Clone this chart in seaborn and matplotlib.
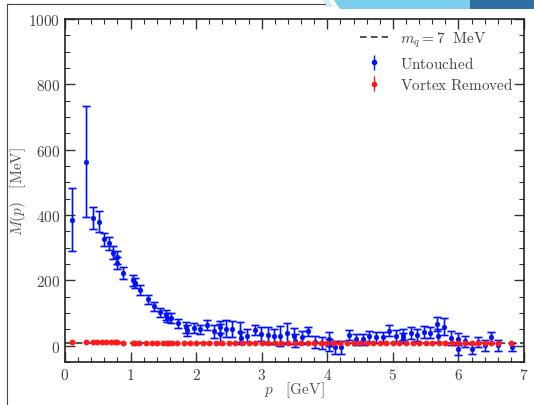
import numpy as np
import pandas as pd
import matplotlib
matplotlib.use("Agg")
import matplotlib.pyplot as plt
import seaborn as sns
from matplotlib.lines import Line2D
from matplotlib.patches import Polygon
from matplotlib.ticker import MultipleLocator

# ---------------- data ----------------
p_untouched = [0.11, 0.32, 0.43, 0.52, 0.60, 0.67, 0.73, 0.79, 0.80, 0.89,
               1.03, 1.07, 1.15, 1.26, 1.36, 1.45, 1.54, 1.56, 1.62, 1.72,
               1.85, 1.86, 1.96, 2.06, 2.17, 2.27, 2.36, 2.37, 2.45, 2.55,
               2.67, 2.69, 2.78, 2.89, 2.99, 3.09, 3.19, 3.28, 3.39, 3.49,
               3.51, 3.61, 3.71, 3.82, 3.92, 4.02, 4.03, 4.12, 4.21, 4.33,
               4.44, 4.54, 4.64, 4.75, 4.85, 4.94, 5.05, 5.15, 5.16, 5.27,
               5.37, 5.47, 5.57, 5.68, 5.69, 5.78, 5.88, 5.99, 6.00, 6.10,
               6.20, 6.30, 6.40, 6.50, 6.61, 6.82]
m_untouched = [386, 563, 391, 380, 325, 314, 285, 270, 253, 223,
               200, 192, 170, 142, 120, 102, 94, 85, 84, 69,
               56, 47, 54, 50, 64, 44, 56, 35, 52, 50,
               42, 24, 30, 48, 36, 32, 28, 30, 38, 30,
               15, 25, 44, 11, 9, 21, 1, -5, -5, 32,
               19, 19, 28, 25, 25, 46, 29, 34, 24, 38,
               32, 42, 40, 66, 30, 58, 24, 21, -11, 13,
               -11, 11, 1, 25, 1, -5]
e_untouched = [96, 170, 33, 33, 20, 20, 20, 20, 18, 18,
               17, 16, 15, 14, 13, 13, 14, 14, 15, 14,
               16, 17, 15, 14, 16, 20, 18, 30, 26, 24,
               30, 18, 20, 16, 22, 26, 24, 30, 32, 24,
               20, 20, 14, 18, 18, 22, 18, 20, 20, 16,
               16, 16, 16, 16, 16, 16, 18, 18, 16, 18,
               18, 18, 18, 22, 20, 26, 22, 18, 18, 18,
               16, 16, 16, 16, 16, 12]

p_removed = [0.10, 0.32, 0.42, 0.49, 0.56, 0.63, 0.70, 0.76, 0.80, 0.89,
             1.03, 1.07, 1.13, 1.23, 1.32, 1.41, 1.49, 1.55, 1.58, 1.63,
             1.71, 1.81, 1.91, 2.00, 2.10, 2.20, 2.30, 2.40, 2.50, 2.60,
             2.70, 2.80, 2.90, 3.00, 3.10, 3.20, 3.30, 3.40, 3.50, 3.60,
             3.70, 3.80, 3.90, 4.00, 4.10, 4.20, 4.30, 4.40, 4.50, 4.60,
             4.70, 4.80, 4.90, 5.00, 5.10, 5.20, 5.30, 5.40, 5.50, 5.60,
             5.70, 5.80, 5.90, 6.00, 6.10, 6.20, 6.30, 6.40, 6.50, 6.60,
             6.80]
m_removed = [12, 10, 10, 10, 10, 10, 10, 10, 10, 9,
             9, 9, 9, 9, 9, 9, 9, 9, 9, 9,
             9, 9, 9, 9, 9, 9, 9, 9, 9, 9,
             9, 9, 8, 9, 8, 8, 9, 8, 8, 8,
             8, 8, 8, 8, 8, 8, 8, 8, 8, 8,
             8, 8, 8, 8, 8, 8, 8, 8, 8, 8,
             8, 8, 8, 8, 8, 8, 8, 8, 8, 8,
             8]
e_removed = [3] * len(p_removed)

m_q = 7
x_ticks = [0, 1, 2, 3, 4, 5, 6, 7]
y_ticks = [0, 200, 400, 600, 800, 1000]

df_u = pd.DataFrame({"p": p_untouched, "M": m_untouched, "err": e_untouched})
df_r = pd.DataFrame({"p": p_removed, "M": m_removed, "err": e_removed})

# ---------------- style ----------------
sns.set_theme(style="ticks")
plt.rcParams["mathtext.fontset"] = "cm"
plt.rcParams["font.family"] = ["DejaVu Serif"]

fig = plt.figure(figsize=(5.34, 4.06), dpi=100)
ax = fig.add_axes([0.1217, 0.106, 0.8596, 0.8446])

# reference line
ax.axhline(m_q, color="#333333", ls=(0, (4, 2.5)), lw=1.2, zorder=2)

BLUE = "#0010ff"
RED = "#ff1a1a"

# error bars (halo + core) for Untouched
for lw, alpha in [(2.0, 0.28), (0.9, 1.0)]:
    ax.errorbar(df_u["p"], df_u["M"], yerr=df_u["err"], fmt="none",
                ecolor=BLUE, elinewidth=lw, capsize=3.0, capthick=lw,
                alpha=alpha, zorder=3)
sns.scatterplot(data=df_u, x="p", y="M", ax=ax, color=BLUE, s=12,
                marker="o", edgecolor=BLUE, linewidth=0.3, zorder=4,
                legend=False)

# Vortex removed
ax.errorbar(df_r["p"], df_r["M"], yerr=df_r["err"], fmt="none",
            ecolor=RED, elinewidth=0.9, capsize=1.8, capthick=0.9, zorder=5)
sns.scatterplot(data=df_r, x="p", y="M", ax=ax, color=RED, s=15,
                marker="o", edgecolor=RED, linewidth=0.3, zorder=6,
                legend=False)

ax.set_xlim(0, 7)
ax.set_ylim(-50, 1000)
ax.set_xticks(x_ticks)
ax.set_yticks(y_ticks)
ax.set_xticklabels([f"${v}$" for v in x_ticks])
ax.set_yticklabels([f"${v}$" for v in y_ticks])
ax.xaxis.set_minor_locator(MultipleLocator(0.2))
ax.yaxis.set_minor_locator(MultipleLocator(50))
ax.tick_params(which="both", direction="in", top=True, right=True,
               colors="#333333", labelcolor="#444444", labelsize=11)
ax.tick_params(which="major", length=7, width=1.0)
ax.tick_params(which="minor", length=3.5, width=0.8)
for s in ax.spines.values():
    s.set_color("#222222")
    s.set_linewidth(1.2)

ax.set_xlabel(r"$p\ \ \ [\mathrm{GeV}]$", fontsize=11, color="#555555")
ax.set_ylabel(r"$M(p)\ \ \ [\mathrm{MeV}]$", fontsize=11, color="#555555")
ax.xaxis.set_label_coords(0.5, -0.05)
ax.yaxis.set_label_coords(-0.08, 0.5)

# legend
h_line = Line2D([], [], color="#333333", ls=(0, (4, 2.5)), lw=1.2)
h_u = ax.errorbar([], [], yerr=[], fmt="o", color=BLUE, ms=3, capsize=2.5,
                  elinewidth=1.0)
h_r = ax.errorbar([], [], yerr=[], fmt="o", color=RED, ms=3, capsize=2.5,
                  elinewidth=1.0)
leg = ax.legend([h_line, h_u, h_r],
                [r"$m_q = 7\ \ \mathrm{MeV}$", r"$\mathrm{Untouched}$",
                 r"$\mathrm{Vortex\ Removed}$"],
                loc="upper right", frameon=False, fontsize=11,
                handlelength=1.8, borderaxespad=0.3, labelspacing=0.35)
for t in leg.get_texts():
    t.set_color("#444444")

# slide decoration
fig.add_artist(Line2D([7 / 534, 7 / 534], [0, 1 - 5 / 406],
                      transform=fig.transFigure, color="#444444", lw=0.8))
fig.add_artist(Line2D([7 / 534, 325 / 534], [1 - 5 / 406, 1 - 5 / 406],
                      transform=fig.transFigure, color="#444444", lw=0.8))
fig.add_artist(Polygon([[333 / 534, 1], [470 / 534, 1], [470 / 534, 1 - 10 / 406],
                        [340 / 534, 1 - 10 / 406]], closed=True,
                       transform=fig.transFigure, color="#7dcfed", lw=0))
fig.add_artist(Polygon([[470 / 534, 1], [1, 1], [1, 1 - 10 / 406],
                        [470 / 534, 1 - 10 / 406]], closed=True,
                       transform=fig.transFigure, color="#2f6fa3", lw=0))
fig.add_artist(Polygon([[322 / 534, 1], [328 / 534, 1], [333 / 534, 1 - 8 / 406],
                        [327 / 534, 1 - 8 / 406]], closed=True,
                       transform=fig.transFigure, color="#cdeef9", lw=0))

fig.savefig("out.png", dpi=100)
